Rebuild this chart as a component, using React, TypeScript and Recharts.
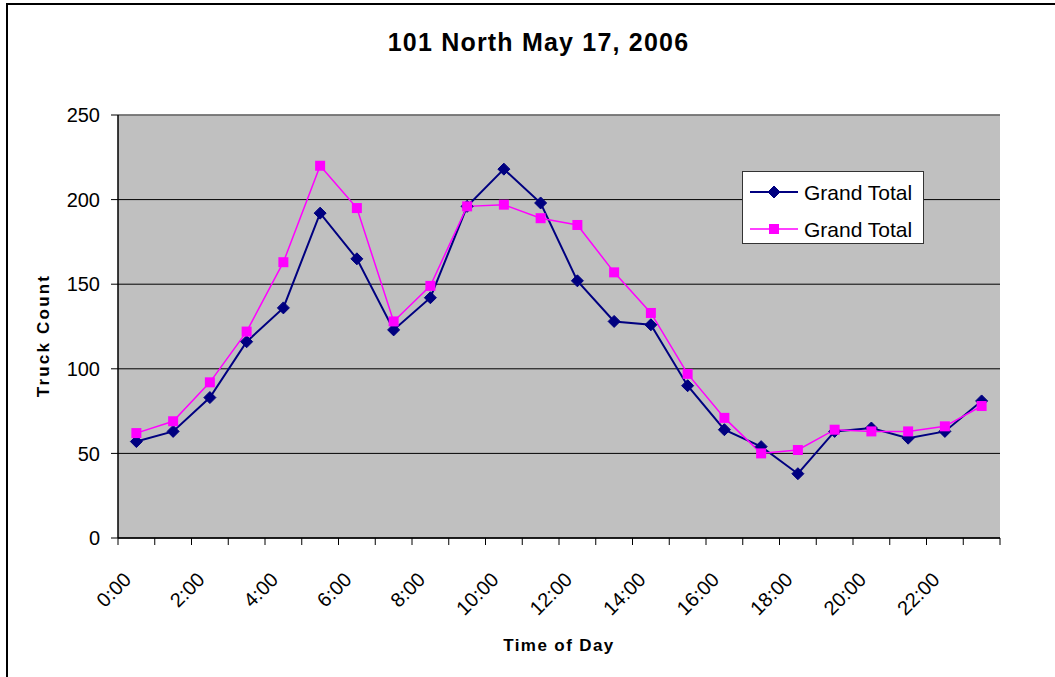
import React from 'react';
import { LineChart, Line, XAxis, YAxis, CartesianGrid, ReferenceLine } from 'recharts';

const hours = [
  '0:00', '1:00', '2:00', '3:00', '4:00', '5:00', '6:00', '7:00', '8:00', '9:00', '10:00', '11:00',
  '12:00', '13:00', '14:00', '15:00', '16:00', '17:00', '18:00', '19:00', '20:00', '21:00', '22:00', '23:00',
];
const totalA = [57, 63, 83, 116, 136, 192, 165, 123, 142, 196, 218, 198, 152, 128, 126, 90, 64, 54, 38, 63, 65, 59, 63, 81];
const totalB = [62, 69, 92, 122, 163, 220, 195, 128, 149, 196, 197, 189, 185, 157, 133, 97, 71, 50, 52, 64, 63, 63, 66, 78];
const yTicks = [0, 50, 100, 150, 200, 250];

const data = hours.map((time, i) => ({ time, a: totalA[i], b: totalB[i] }));

const FONT = '"Liberation Sans", Arial, sans-serif';
const NAVY = '#000080';
const MAGENTA = '#FF00FF';
const W = 1055;
const H = 677;
const PLOT_W = 882;
const BAND = PLOT_W / hours.length;

const Diamond = ({ cx, cy }: any) => {
  if (cx == null || cy == null) return null;
  const r = 6;
  return <path d={`M${cx},${cy - r}L${cx + r},${cy}L${cx},${cy + r}L${cx - r},${cy}Z`} fill={NAVY} stroke={NAVY} strokeWidth={1} />;
};

const Square = ({ cx, cy }: any) => {
  if (cx == null || cy == null) return null;
  const s = 10;
  return <rect x={cx - s / 2} y={cy - s / 2} width={s} height={s} fill={MAGENTA} />;
};

const XTick = ({ x, y, payload, index }: any) => {
  const i = payload?.index ?? index;
  const left = x - BAND / 2;
  const tx = x - 4;
  const ty = y + 43;
  return (
    <g>
      <line x1={left} y1={y} x2={left} y2={y + 7} stroke="#000" strokeWidth={1} />
      {i === hours.length - 1 && (
        <line x1={x + BAND / 2} y1={y} x2={x + BAND / 2} y2={y + 7} stroke="#000" strokeWidth={1} />
      )}
      {i % 2 === 0 && (
        <text
          x={tx}
          y={ty}
          transform={`rotate(-45 ${tx} ${ty})`}
          textAnchor="end"
          fontSize={20}
          fontFamily={FONT}
          fill="#000"
        >
          {payload.value}
        </text>
      )}
    </g>
  );
};

const LegendBox = () => (
  <div
    style={{
      position: 'absolute',
      left: 742,
      top: 171,
      width: 180,
      height: 71,
      background: '#fff',
      border: '1px solid #333',
    }}
  >
    <svg width={180} height={71} style={{ display: 'block' }}>
      <line x1={7} y1={20} x2={55} y2={20} stroke={NAVY} strokeWidth={2} />
      <Diamond cx={31} cy={20} />
      <text x={61} y={28} fontSize={21} fontFamily={FONT}>Grand Total</text>
      <line x1={7} y1={57} x2={55} y2={57} stroke={MAGENTA} strokeWidth={1.5} />
      <Square cx={31} cy={57} />
      <text x={61} y={65} fontSize={21} fontFamily={FONT}>Grand Total</text>
    </svg>
  </div>
);

const YLabel = ({ viewBox }: any) => {
  const cx = 43;
  const cy = viewBox.y + viewBox.height / 2 + 9;
  return (
    <text
      x={cx}
      y={cy}
      transform={`rotate(-90 ${cx} ${cy})`}
      textAnchor="middle"
      dominantBaseline="central"
      fontSize={17}
      fontWeight="bold"
      letterSpacing={2.2}
      fontFamily={FONT}
      fill="#000"
    >
      Truck Count
    </text>
  );
};

export default function App() {
  return (
    <div style={{ position: 'fixed', left: 0, top: 0, width: W, height: H, overflow: 'hidden', background: '#fff' }}>
      <div
        style={{
          position: 'absolute',
          left: 6,
          top: 3,
          width: W + 20,
          height: H + 20,
          border: '2px solid #000',
        }}
      />
      <div
        style={{
          position: 'absolute',
          left: 0,
          width: 1077,
          top: 28,
          textAlign: 'center',
          fontFamily: FONT,
          fontWeight: 'bold',
          fontSize: 25,
          letterSpacing: 1.2,
          color: '#000',
        }}
      >
        101 North May 17, 2006
      </div>
      <div style={{ position: 'absolute', left: 0, top: 0 }}>
        <LineChart width={W} height={H} data={data} margin={{ top: 115, right: 55, left: 0, bottom: 39 }}>
          <CartesianGrid vertical={false} stroke="#000" fill="#C0C0C0" fillOpacity={1} />
          <ReferenceLine y={250} stroke="#808080" strokeWidth={1.5} />
          <XAxis
            dataKey="time"
            interval={0}
            height={100}
            padding={{ left: BAND / 2, right: BAND / 2 }}
            tickSize={0}
            tickMargin={0}
            tickLine={false}
            axisLine={{ stroke: '#000', strokeWidth: 1.5 }}
            tick={<XTick />}
            label={{
              value: 'Time of Day',
              position: 'insideBottom',
              offset: -13,
              fontSize: 17,
              fontWeight: 'bold',
              letterSpacing: 1.4,
              fontFamily: FONT,
              fill: '#000',
            }}
          />
          <YAxis
            width={118}
            domain={[0, 250]}
            ticks={yTicks}
            interval={0}
            tickSize={7}
            tickMargin={11}
            axisLine={{ stroke: '#000', strokeWidth: 1.5 }}
            tickLine={{ stroke: '#000' }}
            tick={{ fill: '#000', fontSize: 20, fontFamily: FONT }}
            label={<YLabel />}
          />
          <YAxis yAxisId="r" orientation="right" width={0} domain={[0, 250]} tick={false} tickLine={false} axisLine={{ stroke: '#808080', strokeWidth: 1.5 }} />
          <Line
            type="linear"
            dataKey="a"
            name="Grand Total"
            stroke={NAVY}
            strokeWidth={2}
            dot={<Diamond />}
            activeDot={false}
            isAnimationActive={false}
          />
          <Line
            type="linear"
            dataKey="b"
            name="Grand Total"
            stroke={MAGENTA}
            strokeWidth={1.5}
            dot={<Square />}
            activeDot={false}
            isAnimationActive={false}
          />
        </LineChart>
      </div>
      <LegendBox />
    </div>
  );
}
